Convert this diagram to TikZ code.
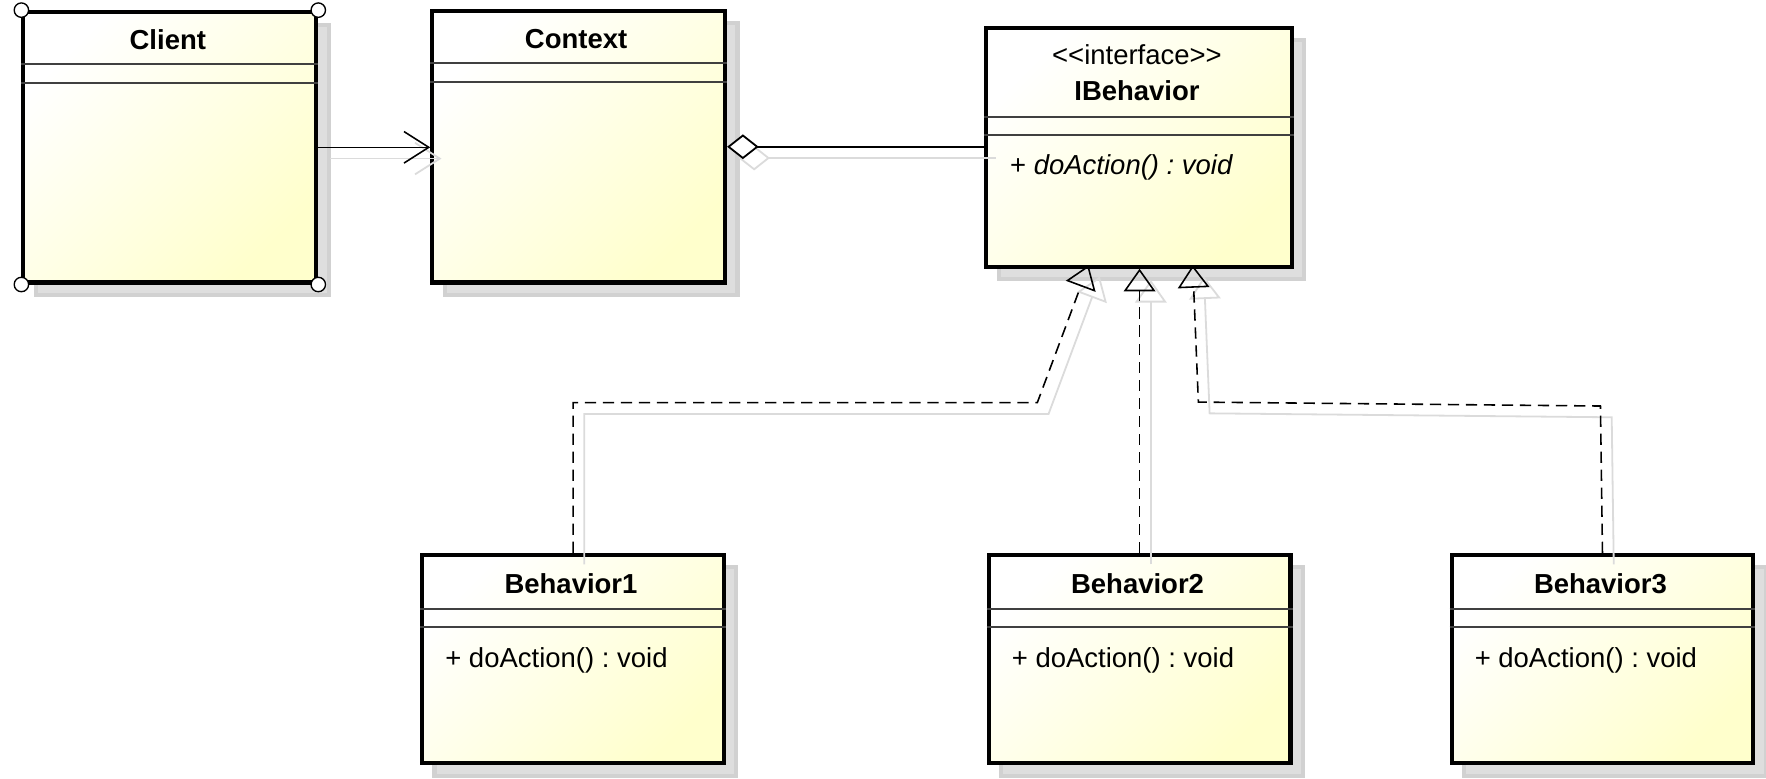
\documentclass[tikz,border=0pt]{standalone}
\usepackage{fontspec}
\newfontfamily\umlfont{Liberation Sans}
\usepackage{tikz}
\usetikzlibrary{arrows.meta,shadows}
\definecolor{classfill}{RGB}{255,255,204}
\frenchspacing

\tikzset{
  classbox/.style={draw, line width=1.8pt, top color=white, bottom color=classfill,
    shading angle=45, anchor=north west, inner sep=0pt,
    drop shadow={shadow xshift=5.5pt, shadow yshift=-5.5pt, fill=black!13, draw=black!18, opacity=1}},
  divider/.style={draw=black!75, line width=0.9pt},
  classname/.style={font=\umlfont\fontsize{12.2}{14}\selectfont\bfseries, anchor=base, inner sep=0pt},
  stereo/.style={font=\umlfont\fontsize{12.2}{14}\selectfont, anchor=base, inner sep=0pt},
  operation/.style={font=\umlfont\fontsize{12.2}{14}\selectfont, anchor=base west, inner sep=0pt},
  handle/.style={draw, fill=white, line width=0.6pt},
  depend/.style={line width=0.7pt, -{Straight Barb[length=11pt, width=14pt, line width=0.7pt]}},
  aggreg/.style={line width=0.7pt, {Diamond[fill=white, length=14pt, width=11pt, line width=0.8pt]}-},
  realize/.style={line width=0.7pt, dash pattern=on 5pt off 3pt,
    -{Triangle[open, length=10pt, width=14pt, line width=0.7pt]}},
  conshadow/.style={draw=black!14, line width=0.8pt, transform canvas={shift={(5pt,-5pt)}}}
}

\begin{document}
\begin{tikzpicture}[x=0.5pt, y=-0.5pt]

	\useasboundingbox (0,0) rectangle (1568,690.8);

	% classes
	\node[classbox, minimum width=130pt, minimum height=120pt] (client) at (19,9) {};
	\node[classbox, minimum width=130pt, minimum height=120.5pt] (context) at (382,8) {};
	\node[classbox, minimum width=135.5pt, minimum height=106pt] (ibehavior) at (874,23) {};
	\foreach \n/\x in {1/373, 2/876, 3/1287}
		\node[classbox, minimum width=134pt, minimum height=92.5pt] (behavior\n) at (\x,491) {};

	\draw[divider] (client.west |- 0,57) -- (client.east |- 0,57);
	\draw[divider] (client.west |- 0,74) -- (client.east |- 0,74);
	\draw[divider] (context.west |- 0,56) -- (context.east |- 0,56);
	\draw[divider] (context.west |- 0,73) -- (context.east |- 0,73);
	\draw[divider] (ibehavior.west |- 0,103.5) -- (ibehavior.east |- 0,103.5);
	\draw[divider] (ibehavior.west |- 0,120) -- (ibehavior.east |- 0,120);
	\foreach \n in {1,2,3}{
		\draw[divider] (behavior\n.west |- 0,540.5) -- (behavior\n.east |- 0,540.5);
		\draw[divider] (behavior\n.west |- 0,557) -- (behavior\n.east |- 0,557);
	}

	% labels
	\node[classname] (clientname) at (149,44) {Client};
	\node[classname] (contextname) at (511.5,43.5) {Context};
	\node[stereo] (ibstereo) at (1009.5,57.5) {<<interface>>};
	\node[classname] (ibname) at (1009.5,89.5) {IBehavior};
	\node[operation] (ibop) at (896.5,155) {+ \itshape doAction() : void};
	\foreach \n/\x in {1/507, 2/1010, 3/1421}{
		\node[classname] (behavior\n name) at (\x,527) {Behavior\n};
		\node[operation] (behavior\n op) at (\x-112,592.5) {+ doAction() : void};
	}

	% selection handles
	\foreach \c in {north west, north east, south west, south east}
		\draw[handle] (client.\c) circle[radius=3.2pt];

	% bends
	\coordinate (r1a) at (921,357.5);
	\coordinate (r1tip) at (966.5,235.5);
	\coordinate (r3a) at (1421,360.5);
	\coordinate (r3b) at (1064,357);
	\coordinate (r3tip) at (1059,235.5);

	% connector shadows
	\draw[conshadow, -{Straight Barb[length=11pt, width=14pt, line width=0.8pt]}] (client.east) -- (client.east -| context.west);
	\draw[conshadow, {Diamond[open, length=14pt, width=11pt, line width=0.8pt]}-] (context.east) -- (context.east -| ibehavior.west);
	\draw[conshadow, -{Triangle[open, length=10pt, width=14pt, line width=0.8pt]}] (behavior1.north) |- (r1a) -- (r1tip);
	\draw[conshadow, -{Triangle[open, length=10pt, width=14pt, line width=0.8pt]}] (behavior2.north) -- (behavior2.north |- ibehavior.south);
	\draw[conshadow, -{Triangle[open, length=10pt, width=14pt, line width=0.8pt]}] (behavior3.north) -- (r3a) -- (r3b) -- (r3tip);

	% connectors
	\draw[depend] (client.east) -- (client.east -| context.west); %association
	\draw[aggreg] (context.east) -- (context.east -| ibehavior.west); %aggregation
	\draw[realize] (behavior1.north) |- (r1a) -- (r1tip); %realization 1
	\draw[realize] (behavior2.north) -- (behavior2.north |- ibehavior.south); %realization 2
	\draw[realize] (behavior3.north) -- (r3a) -- (r3b) -- (r3tip); %realization 3

\end{tikzpicture}
\end{document}
